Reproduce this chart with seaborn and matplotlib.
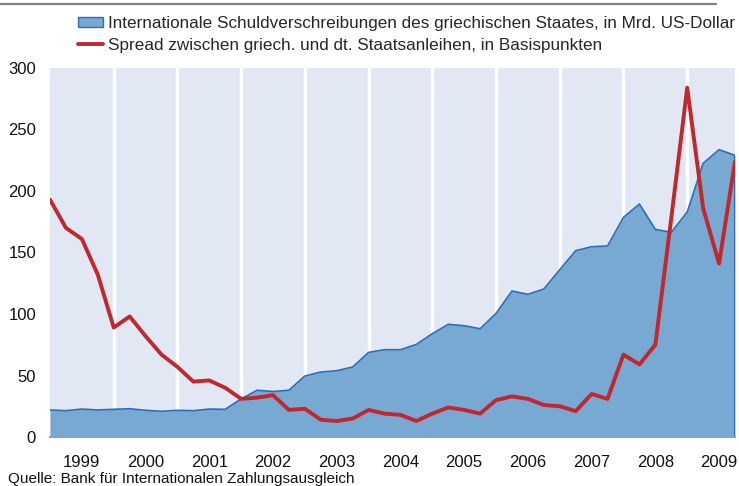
import numpy as np
import pandas as pd
import seaborn as sns
import matplotlib.pyplot as plt
from matplotlib.patches import Patch
from matplotlib.lines import Line2D

# quarterly values 1999Q1 .. 2009Q4
quarters = [str(p) for p in pd.period_range('1999Q1', '2009Q4', freq='Q')]
years = list(range(1999, 2010))

debt = [22, 21.4, 22.7, 22, 22.5, 23, 21.7, 20.9, 21.7, 21.4, 22.7, 22.5,
        31, 38, 37, 38, 49.6, 52.8, 53.9, 56.9, 68.8, 71, 71, 75.3,
        84, 91.6, 90.5, 88, 100.5, 118.7, 116, 120.3,
        136, 151.5, 154.7, 155.3, 178.6, 189.4, 168.8, 166.4, 182.9, 222.5, 233.6, 229]

spread = [193, 170, 161, 132, 89, 98, 82, 67, 57, 45, 46, 40,
          31, 32, 34, 22, 23, 14, 13, 15, 22, 19, 18, 13,
          19, 24, 22, 19, 30, 33, 31, 26, 25, 21, 35, 31,
          67, 59, 75, 178, 284, 186, 141, 224]

label_debt = 'Internationale Schuldverschreibungen des griechischen Staates, in Mrd. US-Dollar'
label_spread = 'Spread zwischen griech. und dt. Staatsanleihen, in Basispunkten'
source = 'Quelle: Bank für Internationalen Zahlungsausgleich'

df = pd.DataFrame({'quarter': quarters, 'debt': debt, 'spread': spread})
df['pos'] = np.arange(len(df))

band_col = '#E1E8F3'
area_col = '#78A9D3'
edge_col = '#2E6DB4'
red = '#C1272D'
axis_col = '#7FA3D4'

sns.set_style('white')
plt.rcParams['font.family'] = ['Liberation Sans', 'DejaVu Sans']

fig = plt.figure(figsize=(7.39, 4.86), dpi=100)
ax = fig.add_axes([50 / 739, 1 - 437 / 486, 685 / 739, 369 / 486])
ax.set_facecolor(band_col)

# white separators between years
for b in range(4, len(df), 4):
    ax.axvline(b, color='white', lw=2.5, zorder=1)

ax.fill_between(df['pos'], 0, df['debt'], color=area_col, lw=0, zorder=2)
sns.lineplot(data=df, x='pos', y='debt', color=edge_col, lw=1.2, ax=ax, zorder=3)
ax.vlines(df['pos'].iloc[-1], 0, df['debt'].iloc[-1], color=edge_col, lw=1.5, zorder=3)
sns.lineplot(data=df, x='pos', y='spread', color=red, lw=2.8, ax=ax, zorder=4)

ax.set_xlim(0, len(df) - 1)
ax.set_ylim(0, 300)
ax.set_yticks(range(0, 301, 50))
ax.tick_params(axis='y', length=0, pad=10, labelsize=12, labelcolor='#111111')

ax.set_xticks(range(0, len(df), 4))
ax.set_xticklabels([])
ax.set_xticks([p + 2 for p in range(0, len(df), 4)], minor=True)
ax.set_xticklabels([str(y) for y in years], minor=True)
ax.tick_params(axis='x', which='major', direction='out', length=4, width=1.2, color=axis_col)
ax.tick_params(axis='x', which='minor', length=0, pad=13, labelsize=12, labelcolor='#111111')
ax.set_xlabel('')
ax.set_ylabel('')

for s in ['top', 'right', 'left']:
    ax.spines[s].set_visible(False)
ax.spines['bottom'].set_color(axis_col)
ax.spines['bottom'].set_linewidth(1.5)
ax.spines['bottom'].set_zorder(5)

handles = [Patch(facecolor=area_col, edgecolor=edge_col, lw=1),
           Line2D([0], [0], color=red, lw=2.8)]
fig.legend(handles, [label_debt, label_spread], loc='upper left',
           bbox_to_anchor=(78 / 739, 1 - 16 / 486), frameon=False, fontsize=12.3,
           handlelength=1.45, handleheight=0.6, handletextpad=0.3,
           labelspacing=0.42, borderpad=0, borderaxespad=0)

fig.add_artist(Line2D([0, 716 / 739], [1 - 4 / 486, 1 - 4 / 486], color='#808080', lw=1.6))
fig.text(8 / 739, 0.5 / 486, source, fontsize=11, va='bottom', ha='left', color='#111111')

fig.savefig('out.png', dpi=100)
